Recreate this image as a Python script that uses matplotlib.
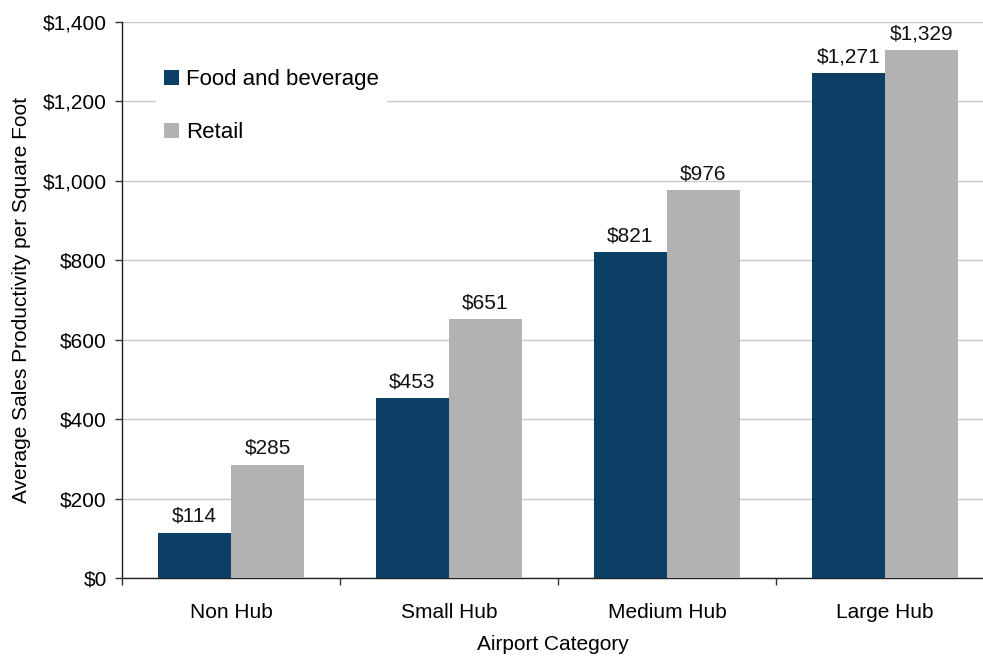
import matplotlib.pyplot as plt
import numpy as np

plt.rcParams['font.family'] = ['Liberation Sans', 'DejaVu Sans']

categories = ['Non Hub', 'Small Hub', 'Medium Hub', 'Large Hub']
food = [114, 453, 821, 1271]
retail = [285, 651, 976, 1329]
series_names = ['Food and beverage', 'Retail']

NAVY = '#0b3f66'
GREY = '#b2b2b2'
FS = 15

fig = plt.figure(figsize=(9.83, 6.56), dpi=100)
ax = fig.add_axes([122 / 983, 1 - 578 / 656, 861 / 983, 556 / 656])

x = np.arange(len(categories))
w = 0.335
b1 = ax.bar(x - w / 2, food, w, color=NAVY, label=series_names[0], zorder=3)
b2 = ax.bar(x + w / 2, retail, w, color=GREY, label=series_names[1], zorder=3)

for bars in (b1, b2):
    for r in bars:
        v = r.get_height()
        ax.annotate(f'${v:,.0f}', (r.get_x() + r.get_width() / 2, v),
                    xytext=(0, 5), textcoords='offset points',
                    ha='center', va='bottom', fontsize=FS, color='#111111')

ax.set_xlim(-0.5, 3.45)
ax.set_ylim(0, 1400)
ax.set_yticks(np.arange(0, 1401, 200))
ax.set_yticklabels([f'${v:,}' for v in range(0, 1401, 200)], fontsize=FS)
ax.yaxis.grid(True, color='#c8c8c8', linewidth=1, zorder=0)
ax.set_axisbelow(True)

# category boundaries as ticks, names as minor labels
ax.set_xticks(np.arange(-0.5, 3.5, 1.0))
ax.set_xticklabels([])
ax.set_xticks(x, minor=True)
ax.set_xticklabels(categories, minor=True, fontsize=FS)
ax.tick_params(axis='x', which='minor', length=0, pad=18)
ax.tick_params(axis='x', which='major', length=5, width=1, color='#333333')
ax.tick_params(axis='y', length=5, width=1, color='#333333', pad=6)

for s in ('top', 'right'):
    ax.spines[s].set_visible(False)
for s in ('left', 'bottom'):
    ax.spines[s].set_color('#222222')
    ax.spines[s].set_linewidth(1)

ax.set_ylabel('Average Sales Productivity per Square Foot', fontsize=FS, labelpad=8)
ax.set_xlabel('Airport Category', fontsize=FS, labelpad=9)

leg = ax.legend(loc='upper left', bbox_to_anchor=(0.027, 0.949), fontsize=16,
                frameon=True, facecolor='white', edgecolor='none', framealpha=1,
                fancybox=False, labelspacing=1.45, handlelength=0.68,
                handleheight=0.68, handletextpad=0.3, borderpad=0.35)
leg.set_zorder(5)

fig.savefig('out.png', dpi=100)
